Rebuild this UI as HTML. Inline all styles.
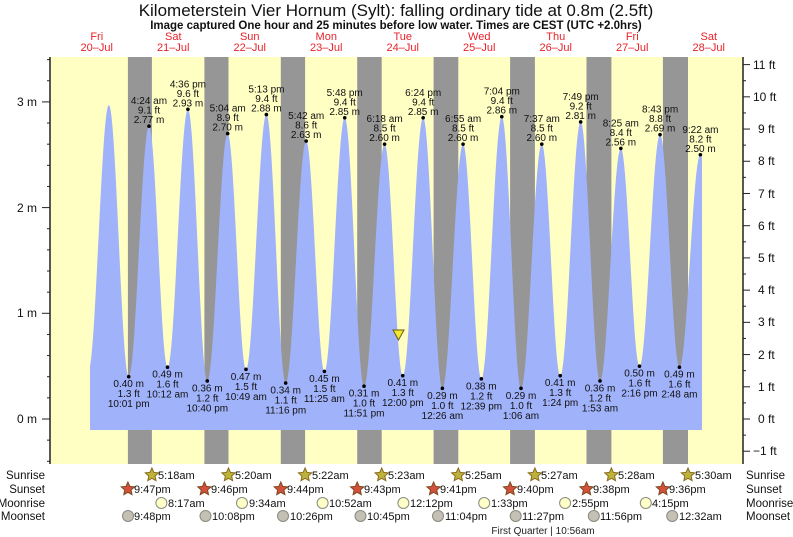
<!DOCTYPE html>
<html><head><meta charset="utf-8"><style>
html,body{margin:0;padding:0;background:#fff;width:793px;height:537px;overflow:hidden}
svg{display:block;font-family:"Liberation Sans",sans-serif}
</style></head><body>
<svg id="s" width="793" height="537" viewBox="0 0 793 537" xmlns="http://www.w3.org/2000/svg">
<text x="396" y="16" font-size="17" text-anchor="middle" fill="#111">Kilometerstein Vier Hornum (Sylt): falling  ordinary tide at 0.8m (2.5ft)</text>
<text x="396" y="29" font-size="11.5" font-weight="bold" text-anchor="middle" fill="#111">Image captured One hour and 25 minutes before low water. Times are CEST (UTC +2.0hrs)</text>
<g font-size="11" fill="#e8222a" text-anchor="middle">
<text x="96.75" y="40">Fri</text><text x="96.75" y="51">20–Jul</text>
<text x="173.25" y="40">Sat</text><text x="173.25" y="51">21–Jul</text>
<text x="249.75" y="40">Sun</text><text x="249.75" y="51">22–Jul</text>
<text x="326.25" y="40">Mon</text><text x="326.25" y="51">23–Jul</text>
<text x="402.75" y="40">Tue</text><text x="402.75" y="51">24–Jul</text>
<text x="479.25" y="40">Wed</text><text x="479.25" y="51">25–Jul</text>
<text x="555.75" y="40">Thu</text><text x="555.75" y="51">26–Jul</text>
<text x="632.25" y="40">Fri</text><text x="632.25" y="51">27–Jul</text>
<text x="708.75" y="40">Sat</text><text x="708.75" y="51">28–Jul</text>
</g>
<rect x="50" y="57" width="693" height="407" fill="#ffffc4"/>
<g fill="#969696">
<rect x="127.9" y="57" width="24" height="407"/><rect x="204.4" y="57" width="24.1" height="407"/>
<rect x="280.8" y="57" width="24.3" height="407"/><rect x="357.2" y="57" width="24.5" height="407"/>
<rect x="433.6" y="57" width="24.7" height="407"/><rect x="510.1" y="57" width="24.8" height="407"/>
<rect x="586.5" y="57" width="24.9" height="407"/><rect x="662.9" y="57" width="25.1" height="407"/>
</g>
<path id="tide" fill="#a0b2fa" d=""/>
<g id="ticks" stroke="#222" stroke-width="1"></g>
<line x1="50" y1="57" x2="50" y2="464" stroke="#222" stroke-width="1.5"/>
<line x1="743" y1="57" x2="743" y2="464" stroke="#222" stroke-width="1.5"/>
<g font-size="12" fill="#111" text-anchor="end">
<text x="37" y="106">3 m</text><text x="37" y="317">1 m</text><text x="37" y="212">2 m</text><text x="37" y="423">0 m</text>
</g>
<g font-size="12" fill="#111">
<text x="753" y="455">−1 ft</text><text x="758" y="423">0 ft</text><text x="758" y="391">1 ft</text><text x="758" y="359">2 ft</text>
<text x="758" y="326">3 ft</text><text x="758" y="294">4 ft</text><text x="758" y="262">5 ft</text><text x="758" y="230">6 ft</text>
<text x="758" y="198">7 ft</text><text x="758" y="165">8 ft</text><text x="758" y="133">9 ft</text><text x="753" y="101">10 ft</text><text x="753" y="69">11 ft</text>
</g>
<g id="dots" fill="#000"></g>
<g font-size="10" fill="#111" text-anchor="middle">
<text x="149" y="104">4:24 am</text><text x="149" y="113.7">9.1 ft</text><text x="149" y="123.2">2.77 m</text>
<text x="187.9" y="87.3">4:36 pm</text><text x="187.9" y="96.8">9.6 ft</text><text x="187.9" y="106.3">2.93 m</text>
<text x="227.7" y="111.6">5:04 am</text><text x="227.7" y="121.1">8.9 ft</text><text x="227.7" y="130.6">2.70 m</text>
<text x="266.4" y="92.6">5:13 pm</text><text x="266.4" y="102.1">9.4 ft</text><text x="266.4" y="111.6">2.88 m</text>
<text x="306.2" y="119">5:42 am</text><text x="306.2" y="128.5">8.6 ft</text><text x="306.2" y="138">2.63 m</text>
<text x="344.7" y="95.8">5:48 pm</text><text x="344.7" y="105.3">9.4 ft</text><text x="344.7" y="114.8">2.85 m</text>
<text x="384.6" y="122.2">6:18 am</text><text x="384.6" y="131.7">8.5 ft</text><text x="384.6" y="141.2">2.60 m</text>
<text x="423.2" y="95.8">6:24 pm</text><text x="423.2" y="105.3">9.4 ft</text><text x="423.2" y="114.8">2.85 m</text>
<text x="463.1" y="122.2">6:55 am</text><text x="463.1" y="131.7">8.5 ft</text><text x="463.1" y="141.2">2.60 m</text>
<text x="501.8" y="94.7">7:04 pm</text><text x="501.8" y="104.2">9.4 ft</text><text x="501.8" y="113.7">2.86 m</text>
<text x="541.8" y="122.2">7:37 am</text><text x="541.8" y="131.7">8.5 ft</text><text x="541.8" y="141.2">2.60 m</text>
<text x="580.7" y="100">7:49 pm</text><text x="580.7" y="109.5">9.2 ft</text><text x="580.7" y="119">2.81 m</text>
<text x="620.8" y="126.4">8:25 am</text><text x="620.8" y="135.9">8.4 ft</text><text x="620.8" y="145.4">2.56 m</text>
<text x="660.1" y="112.7">8:43 pm</text><text x="660.1" y="122.2">8.8 ft</text><text x="660.1" y="131.7">2.69 m</text>
<text x="700.4" y="132.8">9:22 am</text><text x="700.4" y="142.3">8.2 ft</text><text x="700.4" y="151.8">2.50 m</text>

<text x="128.7" y="387.2">0.40 m</text><text x="128.7" y="397.2">1.3 ft</text><text x="128.7" y="407.2">10:01 pm</text>
<text x="167.5" y="377.7">0.49 m</text><text x="167.5" y="387.7">1.6 ft</text><text x="167.5" y="397.7">10:12 am</text>
<text x="207.3" y="391.4">0.36 m</text><text x="207.3" y="401.4">1.2 ft</text><text x="207.3" y="411.4">10:40 pm</text>
<text x="246" y="379.8">0.47 m</text><text x="246" y="389.8">1.5 ft</text><text x="246" y="399.8">10:49 am</text>
<text x="285.7" y="393.6">0.34 m</text><text x="285.7" y="403.6">1.1 ft</text><text x="285.7" y="413.6">11:16 pm</text>
<text x="324.4" y="381.9">0.45 m</text><text x="324.4" y="391.9">1.5 ft</text><text x="324.4" y="401.9">11:25 am</text>
<text x="364" y="396.7">0.31 m</text><text x="364" y="406.7">1.0 ft</text><text x="364" y="416.7">11:51 pm</text>
<text x="402.8" y="386.2">0.41 m</text><text x="402.8" y="396.2">1.3 ft</text><text x="402.8" y="406.2">12:00 pm</text>
<text x="442.4" y="398.8">0.29 m</text><text x="442.4" y="408.8">1.0 ft</text><text x="442.4" y="418.8">12:26 am</text>
<text x="481.3" y="389.3">0.38 m</text><text x="481.3" y="399.3">1.2 ft</text><text x="481.3" y="409.3">12:39 pm</text>
<text x="521" y="398.8">0.29 m</text><text x="521" y="408.8">1.0 ft</text><text x="521" y="418.8">1:06 am</text>
<text x="560.2" y="386.2">0.41 m</text><text x="560.2" y="396.2">1.3 ft</text><text x="560.2" y="406.2">1:24 pm</text>
<text x="600" y="391.4">0.36 m</text><text x="600" y="401.4">1.2 ft</text><text x="600" y="411.4">1:53 am</text>
<text x="639.5" y="376.7">0.50 m</text><text x="639.5" y="386.7">1.6 ft</text><text x="639.5" y="396.7">2:16 pm</text>
<text x="679.4" y="377.7">0.49 m</text><text x="679.4" y="387.7">1.6 ft</text><text x="679.4" y="397.7">2:48 am</text>
</g>
<polygon points="393,330 404,330 398.5,340" fill="#f2e830" stroke="#6a5a10" stroke-width="1"/>
<g font-size="11.5" fill="#111" text-anchor="end">
<text x="45" y="479">Sunrise</text><text x="45" y="493">Sunset</text><text x="45" y="507">Moonrise</text><text x="45" y="520">Moonset</text>
</g>
<g font-size="11.5" fill="#111">
<text x="746" y="479">Sunrise</text><text x="746" y="493">Sunset</text><text x="746" y="507">Moonrise</text><text x="746" y="520">Moonset</text>
</g>
<g id="icons"></g>
<g font-size="11" fill="#111">
<text x="158" y="479">5:18am</text><text x="235" y="479">5:20am</text><text x="312" y="479">5:22am</text><text x="388" y="479">5:23am</text>
<text x="465" y="479">5:25am</text><text x="541" y="479">5:27am</text><text x="618" y="479">5:28am</text><text x="695" y="479">5:30am</text>
<text x="134" y="493">9:47pm</text><text x="211" y="493">9:46pm</text><text x="287" y="493">9:44pm</text><text x="364" y="493">9:43pm</text>
<text x="440" y="493">9:41pm</text><text x="517" y="493">9:40pm</text><text x="593" y="493">9:38pm</text><text x="669" y="493">9:36pm</text>
<text x="168" y="507">8:17am</text><text x="249" y="507">9:34am</text><text x="329" y="507">10:52am</text><text x="410" y="507">12:12pm</text>
<text x="491" y="507">1:33pm</text><text x="572" y="507">2:55pm</text><text x="652" y="507">4:15pm</text>
<text x="134" y="520">9:48pm</text><text x="212" y="520">10:08pm</text><text x="290" y="520">10:26pm</text><text x="367" y="520">10:45pm</text>
<text x="445" y="520">11:04pm</text><text x="522" y="520">11:27pm</text><text x="600" y="520">11:56pm</text><text x="679" y="520">12:32am</text>
</g>
<text x="543" y="534" font-size="10" fill="#222" text-anchor="middle">First Quarter | 10:56am</text>
</svg>
<script>
(function(){
var NS="http://www.w3.org/2000/svg";
function X(t){return 58.5+3.1875*t;}
function Y(m){return 419-105.7*m;}
var ev=[[9.3,0.45],[15.8,2.97],[22.02,0.40],[28.4,2.77],[34.2,0.49],[40.6,2.93],[46.67,0.36],[53.07,2.70],[58.82,0.47],[65.22,2.88],[71.27,0.34],[77.7,2.63],[83.42,0.45],[89.8,2.85],[95.85,0.31],[102.3,2.60],[108,0.41],[114.4,2.85],[120.43,0.29],[126.92,2.60],[132.65,0.38],[139.07,2.86],[145.1,0.29],[151.62,2.60],[157.4,0.41],[163.82,2.81],[169.88,0.36],[176.42,2.56],[182.27,0.50],[188.72,2.69],[194.8,0.49],[201.37,2.50],[207.5,0.45]];
function h(t){for(var i=0;i<ev.length-1;i++){var a=ev[i],b=ev[i+1];if(t>=a[0]&&t<=b[0]){var f=(t-a[0])/(b[0]-a[0]);return a[1]+(b[1]-a[1])*(1-Math.cos(Math.PI*f))/2;}}return 0.45;}
var t0=(90-58.5)/3.1875,t1=(702-58.5)/3.1875;
var d="M90,430";
for(var t=t0;t<=t1;t+=0.05){d+=" L"+X(t).toFixed(2)+","+Y(h(t)).toFixed(2);}
d+=" L702,"+Y(h(t1)).toFixed(2)+" L702,430 Z";
document.getElementById("tide").setAttribute("d",d);
var dots=document.getElementById("dots");
for(var i=2;i<ev.length-1;i++){var c=document.createElementNS(NS,"circle");c.setAttribute("cx",X(ev[i][0]));c.setAttribute("cy",Y(ev[i][1]));c.setAttribute("r",1.8);dots.appendChild(c);}
var tk=document.getElementById("ticks");
function ln(x1,y1,x2,y2){var l=document.createElementNS(NS,"line");l.setAttribute("x1",x1);l.setAttribute("y1",y1);l.setAttribute("x2",x2);l.setAttribute("y2",y2);tk.appendChild(l);}
for(var k=-2;k<=17;k++){var m=k*0.2,y=Y(m);if(y<57||y>464)continue;var maj=(k%5==0);ln(maj?42:47,y,50,y);}
for(var k=-2;k<=23;k++){var f=k*0.5,y=419-f*0.3048*105.7;if(y<57||y>464)continue;var maj=(k%2==0);ln(743,y,maj?750:746,y);}
var ic=document.getElementById("icons");
function star(cx,cy,fill,stroke){var p="";for(var i=0;i<10;i++){var r=(i%2==0)?7:3.3,a=-Math.PI/2+i*Math.PI/5;p+=(cx+r*Math.cos(a)).toFixed(2)+","+(cy+r*Math.sin(a)).toFixed(2)+" ";}var s=document.createElementNS(NS,"polygon");s.setAttribute("points",p);s.setAttribute("fill",fill);s.setAttribute("stroke",stroke);s.setAttribute("stroke-width","1");ic.appendChild(s);}
function circ(cx,cy,fill){var c=document.createElementNS(NS,"circle");c.setAttribute("cx",cx);c.setAttribute("cy",cy);c.setAttribute("r",5.5);c.setAttribute("fill",fill);c.setAttribute("stroke","#8a8a80");c.setAttribute("stroke-width","1");ic.appendChild(c);}
[151.9,228.5,305.1,381.7,458.3,534.9,611.4,688].forEach(function(x){star(x,475,"#bdb23a","#8a6a20");});
[127.9,204.4,280.8,357.2,433.6,510.1,586.5,662.9].forEach(function(x){star(x,489,"#d4503a","#7a4a20");});
[161.4,242,322.6,403.4,484.2,565.1,645.8].forEach(function(x){circ(x,503,"#ffffc8");});
[128,205.5,283,360.5,438,515.7,593.8,672.2].forEach(function(x){circ(x,516,"#c4c0b4");});
})();
</script>
</body></html>
